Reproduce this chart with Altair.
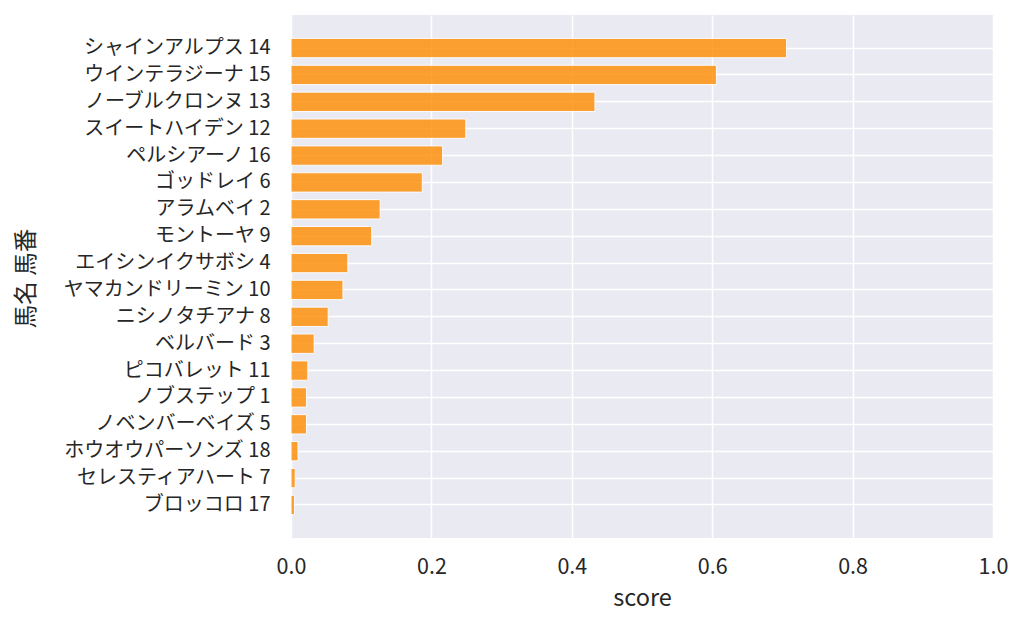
import altair as alt
import pandas as pd

names = [
    "シャインアルプス 14", "ウインテラジーナ 15", "ノーブルクロンヌ 13", "スイートハイデン 12",
    "ペルシアーノ 16", "ゴッドレイ 6", "アラムベイ 2", "モントーヤ 9",
    "エイシンイクサボシ 4", "ヤマカンドリーミン 10", "ニシノタチアナ 8", "ベルバード 3",
    "ピコバレット 11", "ノブステップ 1", "ノベンバーベイズ 5", "ホウオウパーソンズ 18",
    "セレスティアハート 7", "ブロッコロ 17",
]
scores = [
    0.706, 0.606, 0.433, 0.249, 0.216, 0.187, 0.127, 0.115,
    0.081, 0.074, 0.053, 0.033, 0.024, 0.022, 0.022, 0.010,
    0.006, 0.005,
]
ticks = [0.0, 0.2, 0.4, 0.6, 0.8, 1.0]

df = pd.DataFrame({"name": names, "score": scores})

FONT = "Noto Sans CJK JP"
TXT = "#262626"

chart = alt.Chart(df).mark_bar(
    color="darkorange", opacity=0.8, stroke="white", strokeWidth=1
).encode(
    x=alt.X("score:Q", title="score",
            scale=alt.Scale(domain=[0, 1], nice=False, zero=True),
            axis=alt.Axis(values=ticks, format=".1f", grid=True, gridColor="white",
                          gridWidth=1.5, domain=False, ticks=False, labelPadding=18,
                          labelFontSize=21.5, titleFontSize=23.5, titlePadding=9,
                          labelFont=FONT, titleFont=FONT, labelColor=TXT, titleColor=TXT,
                          titleFontWeight="normal", labelFlush=False)),
    y=alt.Y("name:N", title="馬名 馬番", sort=names,
            scale=alt.Scale(paddingInner=0.28, paddingOuter=0.87),
            axis=alt.Axis(grid=True, gridColor="white", gridWidth=1.5, bandPosition=0.5,
                          domain=False, ticks=False, labelPadding=21,
                          labelFontSize=20, titleFontSize=23.5,
                          labelFont=FONT, titleFont=FONT, labelColor=TXT, titleColor=TXT,
                          titleFontWeight="normal", labelLimit=400,
                          titleX=-265, titleY=263, titleAngle=270, titleBaseline="middle",
                          titleAlign="center")),
).properties(
    width=702, height=523,
    background="white",
    autosize=alt.AutoSizeParams(type="none"),
    padding={"left": 283, "top": 7, "right": 20, "bottom": 80},
).configure_view(
    fill="#EAEAF2", stroke=None
)

chart.save("out.html", embed_options={"renderer": "svg", "actions": False})
